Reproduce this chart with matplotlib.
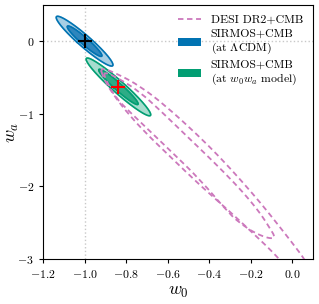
import numpy as np
import matplotlib
matplotlib.use("Agg")
import matplotlib.pyplot as plt
from matplotlib.path import Path
from matplotlib.patches import PathPatch, Patch
from matplotlib.lines import Line2D

plt.rcParams['font.family'] = 'serif'
plt.rcParams['font.serif'] = ['cmr10']
plt.rcParams['mathtext.fontset'] = 'cm'
plt.rcParams['axes.formatter.use_mathtext'] = True

# ---- data ----
# SIRMOS+CMB forecasts (Gaussian): center, sigma_w0, sigma_wa, correlation
lcdm_center = [-1.0, 0.0]
lcdm_sig = [0.055, 0.138, -0.951]
w0wa_center = [-0.837, -0.63]
w0wa_sig = [0.0626, 0.160, -0.961]
chi2_levels = [2.30, 6.18]   # 1 sigma, 2 sigma

# DESI DR2+CMB contours (w0, wa)
desi_1s_w0 = [-0.911, -0.829, -0.733, -0.637, -0.497, -0.386, -0.276, -0.203, -0.146,
              -0.107, -0.083, -0.093, -0.126, -0.184, -0.242, -0.300, -0.444, -0.589,
              -0.685, -0.781, -0.853, -0.897]
desi_1s_wa = [-0.412, -0.522, -0.702, -0.950, -1.337, -1.641, -1.959, -2.193, -2.401,
              -2.580, -2.691, -2.718, -2.704, -2.635, -2.525, -2.387, -1.904, -1.503,
              -1.240, -0.978, -0.771, -0.536]
desi_2s_w0 = [-0.926, -0.839, -0.733, -0.613, -0.459, -0.348, -0.242, -0.146, -0.069,
              -0.001, 0.061, 0.100, -0.016, -0.064, -0.126, -0.198, -0.290, -0.444,
              -0.589, -0.685, -0.781, -0.868, -0.911]
desi_2s_wa = [-0.356, -0.453, -0.619, -0.881, -1.282, -1.599, -1.931, -2.249, -2.525,
              -2.773, -3.008, -3.20, -3.16, -2.994, -2.814, -2.621, -2.373, -1.986,
              -1.586, -1.323, -1.033, -0.715, -0.494]

legend_labels = ['DESI DR2+CMB', 'SIRMOS+CMB\n(at $\\Lambda$CDM)',
                 'SIRMOS+CMB\n(at $w_0w_a$ model)']

c_desi = '#cc78bc'
c_blue = '#0173b2'
c_green = '#029e73'
blue_fill = ['#2f86bd', '#a6cee4']
green_fill = ['#2eac86', '#a7ddce']


def ellipse_pts(center, sig, level):
    sw0, swa, rho = sig
    C = np.array([[sw0**2, rho*sw0*swa], [rho*sw0*swa, swa**2]])
    vals, vecs = np.linalg.eigh(C)
    t = np.linspace(0, 2*np.pi, 300)
    circ = np.vstack([np.cos(t), np.sin(t)])
    pts = vecs @ (np.sqrt(vals)[:, None] * circ) * np.sqrt(level)
    return center[0] + pts[0], center[1] + pts[1]


def smooth_closed(w0, wa):
    P = np.column_stack([w0, wa])
    n = len(P)
    mids = (P + np.roll(P, -1, axis=0)) / 2
    verts = [mids[-1]]
    codes = [Path.MOVETO]
    for i in range(n):
        verts += [P[i], mids[i]]
        codes += [Path.CURVE3, Path.CURVE3]
    return Path(verts, codes)


fig = plt.figure(figsize=(3.19, 3.04), dpi=100)
ax = fig.add_axes([0.135, 0.148, 0.846, 0.836])

ax.axvline(-1.0, color='#c8c8c8', ls=':', lw=1.0, zorder=0)
ax.axhline(0.0, color='#c8c8c8', ls=':', lw=1.0, zorder=0)

for center, sig, col, fills in [(lcdm_center, lcdm_sig, c_blue, blue_fill),
                                (w0wa_center, w0wa_sig, c_green, green_fill)]:
    x2, y2 = ellipse_pts(center, sig, chi2_levels[1])
    x1, y1 = ellipse_pts(center, sig, chi2_levels[0])
    ax.fill(x2, y2, color=fills[1], zorder=2)
    ax.plot(x2, y2, color=col, lw=1.2, zorder=3)
    ax.fill(x1, y1, color=fills[0], zorder=4)
    ax.plot(x1, y1, color=col, lw=1.2, zorder=5)

for w0, wa in [(desi_1s_w0, desi_1s_wa), (desi_2s_w0, desi_2s_wa)]:
    patch = PathPatch(smooth_closed(w0, wa), facecolor='none', edgecolor=c_desi,
                      lw=1.3, ls=(0, (3, 2)), zorder=6)
    ax.add_patch(patch)

ax.plot([lcdm_center[0]], [lcdm_center[1]], marker='+', color='black', ms=10, mew=1.5, zorder=8)
ax.plot([w0wa_center[0]], [w0wa_center[1]], marker='+', color='red', ms=10, mew=1.5, zorder=8)

ax.set_xlim(-1.2, 0.1)
ax.set_ylim(-3.0, 0.5)
ax.set_xticks([-1.2, -1.0, -0.8, -0.6, -0.4, -0.2, 0.0])
ax.set_yticks([-3, -2, -1, 0])
ax.tick_params(labelsize=8.5, length=3, width=0.8)
ax.set_xlabel('$w_0$', fontsize=13, labelpad=3)
ax.set_ylabel('$w_a$', fontsize=13)
ax.yaxis.set_label_coords(-0.08, 0.5)

handles = [Line2D([0], [0], color=c_desi, lw=1.3, ls=(0, (3, 2))),
           Patch(facecolor=c_blue, edgecolor='none'),
           Patch(facecolor=c_green, edgecolor='none')]
leg = ax.legend(handles, legend_labels, loc='upper right', fontsize=8.5, frameon=False,
                handlelength=2.0, handleheight=0.6, handletextpad=0.8,
                borderaxespad=0.45, labelspacing=0.35)
leg.set_zorder(10)

fig.savefig('out.png', dpi=100)
